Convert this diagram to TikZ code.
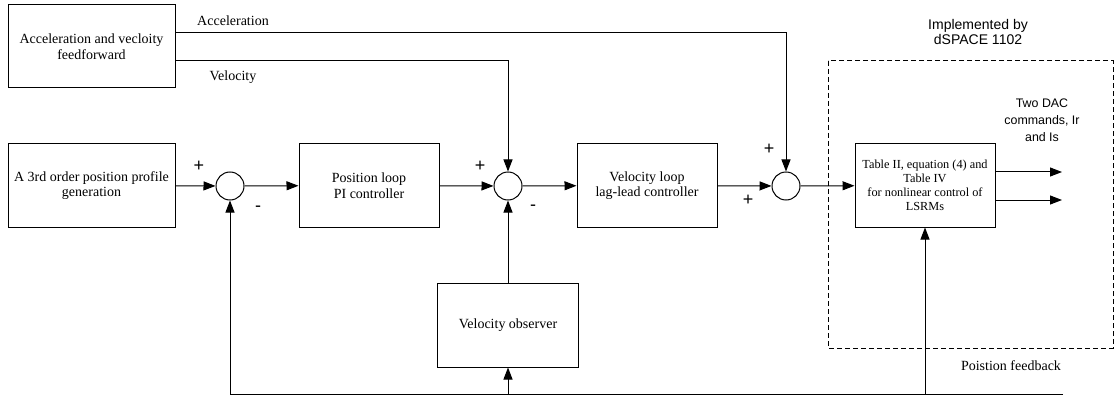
\documentclass[tikz,border=0pt]{standalone}
\usepackage{fontspec}
\setmainfont{Liberation Serif}
\setsansfont{Liberation Sans}
\usetikzlibrary{arrows.meta}

\begin{document}
\begin{tikzpicture}[x=1pt, y=-1pt,
        block/.style={rectangle, draw, line width=1pt, minimum width=140pt, minimum height=83pt, inner sep=2pt, align=center, font=\rmfamily\fontsize{14}{15.5}\selectfont},
        sumCircle/.style={circle, draw, line width=1pt, minimum size=28pt, inner sep=0pt},
        signal/.style={line width=1pt, -{Triangle[length=12pt, width=9pt]}},
        sign/.style={font=\sffamily\fontsize{18}{18}\selectfont, inner sep=0pt},
        sigLabel/.style={font=\rmfamily\fontsize{14}{16}\selectfont, inner sep=0pt},
        dspaceFrame/.style={line width=1pt, dash pattern=on 5pt off 3pt}]
    \useasboundingbox (0,0) rectangle (1115,398);

    \node [block, minimum width=167pt] (ffBox) at (91.5,46.5) {Acceleration and vecloity\\feedforward};
    \node [block, minimum width=167pt] (profileBox) at (91.5,185.5) {A 3rd order position profile\\generation};
    \node [sumCircle] (sumOne) at (230,186) {};
    \node [block] (positionBox) at (369,185.5) {Position loop\\PI controller};
    \node [sumCircle] (sumTwo) at (508,186) {};
    \node [block] (velocityBox) at (647,185.5) {Velocity loop\\lag-lead controller};
    \node [sumCircle] (sumThree) at (786,186) {};
    \node [block, font=\rmfamily\fontsize{12.3}{14}\selectfont] (tableBox) at (925,185.5) {Table II, equation (4) and\\Table IV\\for nonlinear control of\\LSRMs};
    \node [block, minimum width=141pt, minimum height=84pt] (observerBox) at (508,325) {Velocity observer};

    \draw [signal] (profileBox) -- (sumOne);
    \draw [signal] (sumOne) -- (positionBox);
    \draw [signal] (positionBox) -- (sumTwo);
    \draw [signal] (sumTwo) -- (velocityBox);
    \draw [signal] (velocityBox) -- (sumThree);
    \draw [signal] (sumThree) -- (tableBox);

    \draw [signal] (ffBox.east |- 0,33) -| (sumThree);
    \draw [signal] (ffBox.east |- 0,61) -| (sumTwo);
    \draw [signal] (observerBox) -- (sumTwo);

    \coordinate (outOne) at (1062,172);
    \coordinate (outTwo) at (1062,200);
    \draw [signal] (tableBox.east |- outOne) -- (outOne);
    \draw [signal] (tableBox.east |- outTwo) -- (outTwo);

    \coordinate (fbEnd) at (1063,394);
    \draw [signal] (fbEnd) -| (sumOne);
    \draw [signal] (observerBox |- fbEnd) -- (observerBox);
    \draw [signal] (tableBox |- fbEnd) -- (tableBox);

    \draw [dspaceFrame] (828,61) rectangle (1113,348);

    \node [sigLabel] (accLabel) at (233,21) {Acceleration};
    \node [sigLabel] (velLabel) at (233,77) {Velocity};
    \node [sigLabel] (fbLabel) at (1011,366) {Poistion feedback};

    \node [sign] (plusOne) at (199,166) {+};
    \node [sign] (minusOne) at (258,209) {-};
    \node [sign] (plusTwo) at (480,166) {+};
    \node [sign] (minusTwo) at (533,208) {-};
    \node [sign] (plusThree) at (769,149) {+};
    \node [sign] (plusFour) at (748,200) {+};

    \node [align=center, font=\sffamily\fontsize{14}{15}\selectfont] (implNote) at (978,32) {Implemented by\\dSPACE 1102};
    \node [align=center, font=\sffamily\fontsize{12.4}{17}\selectfont] (dacNote) at (1042,120) {Two DAC\\commands, Ir\\and Is};
\end{tikzpicture}
\end{document}
